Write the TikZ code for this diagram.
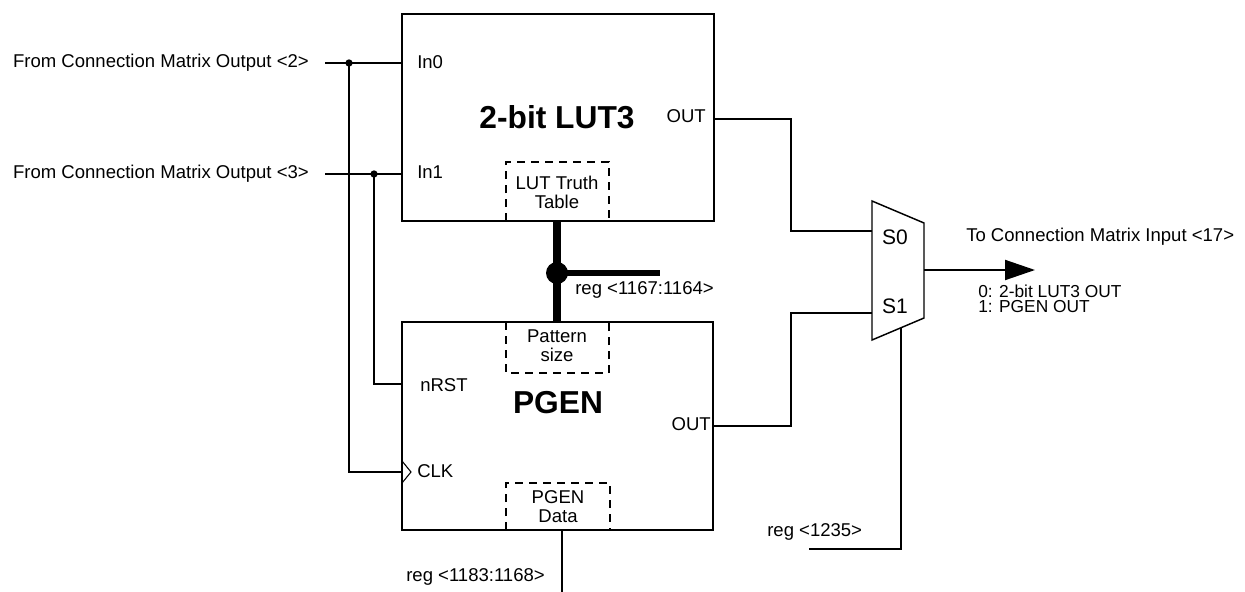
\documentclass[tikz,border=0pt]{standalone}
\usepackage{fontspec}
\setmainfont{Liberation Sans}
\usetikzlibrary{arrows.meta}

\begin{document}
\begin{tikzpicture}[line cap=butt,line join=miter,x=0.75pt,y=-0.75pt,
    wire/.style={line width=1.5pt},
    blockbox/.style={draw,line width=1.5pt,inner sep=0pt},
    dashbox/.style={line width=1.2pt,dash pattern=on 6pt off 4.5pt},
    lbl/.style={font=\fontsize{13.9}{14.2}\selectfont,inner sep=0pt},
    title/.style={font=\fontsize{23.8}{26}\selectfont\bfseries,inner sep=0pt},
    dot/.style={circle,fill,inner sep=0pt,minimum size=5.5pt}]
        \useasboundingbox (0,0) rectangle (1245,592);
        \node[blockbox,minimum width=234pt,minimum height=155.25pt] (lut) at (558,117.5) {};
        \node[blockbox,minimum width=233.25pt,minimum height=156pt] (pgen) at (557.5,426) {};
        \node[title] (luttitle) at (557,117) {2-bit LUT3};
        \node[title] (pgentitle) at (558,403) {PGEN};
        \draw [dashbox] (506,221) -- (506,162) -- (609,162) -- (609,221);
        \draw [dashbox] (506,322) -- (506,373) -- (609,373) -- (609,322);
        \draw [dashbox] (506,530) -- (506,483) -- (610,483) -- (610,530);
        \node[lbl,align=center] (truth) at (557,192) {LUT Truth\\Table};
        \node[lbl,align=center] (psize) at (557,346) {Pattern\\size};
        \node[lbl,align=center] (pdata) at (558,507) {PGEN\\Data};
        \node[lbl,anchor=west] (in0) at (417,62) {In0};
        \node[lbl,anchor=west] (in1) at (417,172) {In1};
        \node[lbl,anchor=east] (lutout) at (706,116) {OUT};
        \node[lbl,anchor=west] (nrst) at (420,385) {nRST};
        \node[lbl,anchor=west] (clk) at (417,471) {CLK};
        \node[lbl,anchor=east] (pgenout) at (711,424) {OUT};
        \node[lbl,anchor=east] (src2) at (309,63) {From Connection Matrix Output <2>};
        \node[lbl,anchor=east] (src3) at (309,174) {From Connection Matrix Output <3>};
        \coordinate (w2) at (325,63);
        \coordinate (w3) at (325,174);
        \coordinate (j2) at (349,63);
        \coordinate (j3) at (374,174);
        \coordinate (clkin) at (402,472);
        \coordinate (rstin) at (402,384);
        \draw [wire] (w2) -- (lut.west |- w2);
        \draw [wire] (w3) -- (lut.west |- w3);
        \draw [wire] (j2) |- (clkin);
        \draw [wire] (j3) |- (rstin);
        \node[dot] (d2) at (j2) {};
        \node[dot] (d3) at (j3) {};
        \draw [line width=0.8pt] (402,461) -- (411,472) -- (402,483);
        \coordinate (busdot) at (557,273);
        \coordinate (busend) at (660,273);
        \draw [line width=6pt] (lut.south -| busdot) -- (pgen.north -| busdot);
        \draw [line width=5.2pt] (busdot) -- (busend);
        \node[circle,fill,inner sep=0pt,minimum size=16.5pt] (busjn) at (busdot) {};
        \node[lbl,anchor=west] (rega) at (575,290) {reg <1167:1164>};
        \coordinate (mxa) at (872,201);
        \coordinate (mxb) at (924,223);
        \coordinate (mxc) at (924,318);
        \coordinate (mxd) at (872,340);
        \draw [line width=1.1pt] (mxa) -- (mxb) -- (mxc) -- (mxd) -- cycle;
        \node[font=\fontsize{15.75}{17}\selectfont,inner sep=0pt] (s0) at (895,237) {S0};
        \node[font=\fontsize{15.75}{17}\selectfont,inner sep=0pt] (s1) at (895,306) {S1};
        \coordinate (mxs0) at (872,231);
        \coordinate (mxs1) at (872,313);
        \coordinate (mxout) at (924,270);
        \coordinate (mxsel) at (901,327.7);
        \coordinate (lutport) at (714,119);
        \coordinate (pgenport) at (713,426);
        \draw [wire] (lutport) -- ++(77,0) |- (mxs0);
        \draw [wire] (pgenport) -- ++(78,0) |- (mxs1);
        \coordinate (dest) at (1035,270);
        \draw [wire,-{Triangle[length=22.5pt,width=15pt]}] (mxout) -- (dest);
        \node[lbl,anchor=west] (destlbl) at (966,237) {To Connection Matrix Input <17>};
        \node[anchor=west,align=left,inner sep=0pt,font=\fontsize{13}{11.5}\selectfont] (legend) at (978,299) {0: 2-bit LUT3 OUT\\1: PGEN OUT};
        \coordinate (selend) at (809,549);
        \draw [wire] (mxsel) |- (selend);
        \node[lbl,anchor=west] (regc) at (767,532) {reg <1235>};
        \coordinate (dataend) at (562,592);
        \draw [wire] (pgen.south -| dataend) -- (dataend);
        \node[lbl,anchor=east] (regb) at (545,577) {reg <1183:1168>};
\end{tikzpicture}
\end{document}
